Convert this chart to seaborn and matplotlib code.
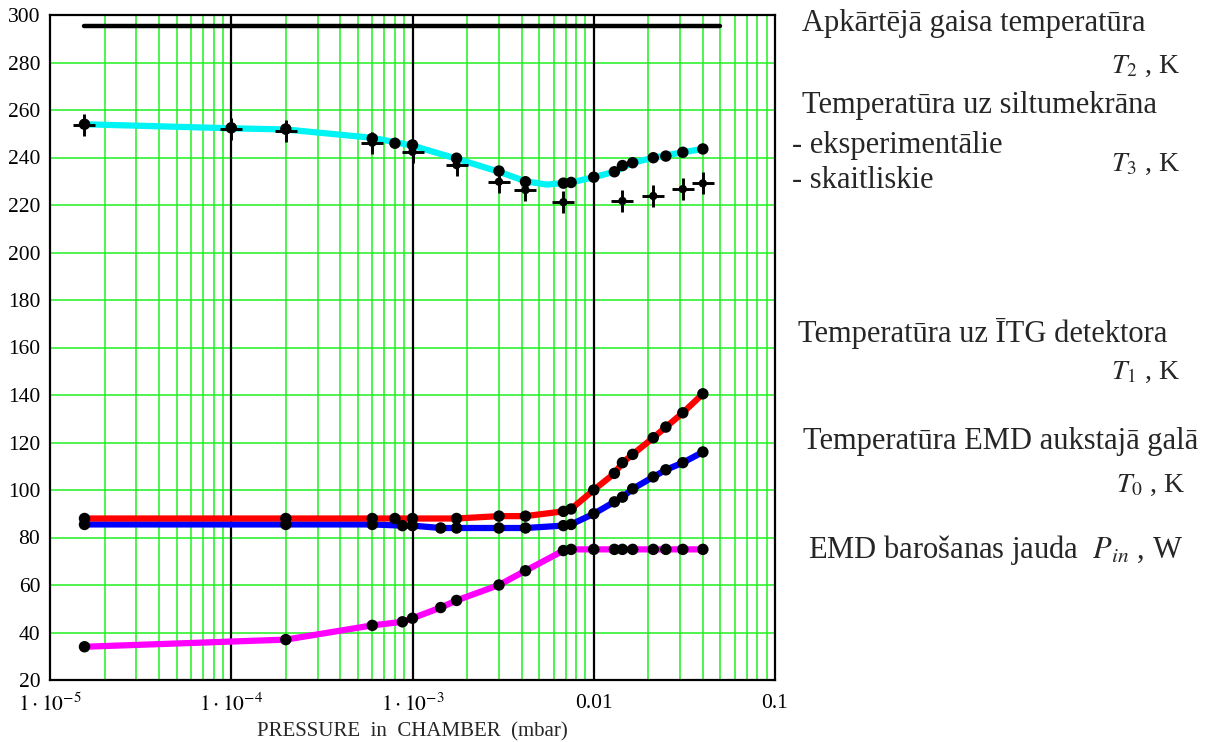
import numpy as np
import pandas as pd
import matplotlib
matplotlib.use("Agg")
import matplotlib.pyplot as plt
import seaborn as sns

# Pressure in chamber (mbar) and measured quantities
t2_p = [1.55e-5, 0.05]
t2_T = [295.5, 295.5]

t1_p = [1.55e-5, 2e-4, 6e-4, 8e-4, 1e-3, 1.75e-3, 3e-3, 4.2e-3, 6.8e-3, 7.5e-3,
        0.01, 0.013, 0.0144, 0.0164, 0.0213, 0.025, 0.031, 0.04]
t1_T = [88, 88, 88, 88, 88, 88, 89, 89, 91, 92,
        100, 107, 111.5, 115, 122, 126.5, 132.5, 140.5]

t0_p = [1.55e-5, 2e-4, 6e-4, 8.8e-4, 1e-3, 1.43e-3, 1.75e-3, 3e-3, 4.2e-3, 6.8e-3,
        7.5e-3, 0.01, 0.013, 0.0144, 0.0164, 0.0213, 0.025, 0.031, 0.04]
t0_T = [85.5, 85.5, 85.5, 85, 85, 84, 84, 84, 84, 85,
        85.5, 90, 95, 97, 100.5, 105.5, 108.5, 111.5, 116]

pin_p = t0_p
pin_W = [34, 37, 43, 44.5, 46, 50.5, 53.5, 60, 66, 74.5,
         75, 75, 75, 75, 75, 75, 75, 75, 75]

# Heat screen temperature: computed curve, computed points, experimental points
t3_curve_p = [1.55e-5, 1e-4, 2e-4, 6e-4, 1e-3, 1.75e-3, 3e-3, 4.2e-3, 5.5e-3,
              7.5e-3, 0.01, 0.013, 0.0164, 0.0213, 0.031, 0.04]
t3_curve_T = [254, 252.3, 251.8, 248.3, 245, 239.5, 234, 230, 228.6,
              229.5, 231.7, 234, 237.8, 239.9, 242.2, 243.6]

t3_calc_p = [1.55e-5, 1e-4, 2e-4, 6e-4, 8e-4, 1e-3, 1.75e-3, 3e-3, 4.2e-3, 6.8e-3,
             7.5e-3, 0.01, 0.013, 0.0144, 0.0164, 0.0213, 0.025, 0.031, 0.04]
t3_calc_T = [254, 252.5, 252, 248, 246, 245.3, 239.7, 234.3, 229.8, 229.2,
             229.5, 231.7, 234, 236.6, 237.8, 239.9, 240.6, 242.2, 243.6]

t3_exp_p = [1.55e-5, 1e-4, 2e-4, 6e-4, 1e-3, 1.75e-3, 3e-3, 4.2e-3, 6.8e-3,
            0.0144, 0.0213, 0.031, 0.04]
t3_exp_T = [253.7, 252, 251.3, 246.2, 242.4, 236.8, 229.8, 226.3, 221.2,
            221.7, 223.8, 226.7, 229.1]

x_ticks = [1e-5, 1e-4, 1e-3, 1e-2, 1e-1]
x_tick_labels = [r"$1\cdot10^{-5}$", r"$1\cdot10^{-4}$", r"$1\cdot10^{-3}$", "0.01", "0.1"]
y_ticks = list(range(20, 301, 20))

sns.set_theme(style="white")
plt.rcParams["font.family"] = ["Liberation Serif", "DejaVu Serif"]
plt.rcParams["mathtext.fontset"] = "stix"

W, H = 1210, 742
fig = plt.figure(figsize=(W / 100, H / 100), dpi=100)
ax = fig.add_axes([50 / W, 1 - 680 / H, 725 / W, 665 / H])
ax.set_xscale("log")
ax.set_xlim(1e-5, 0.1)
ax.set_ylim(20, 300)

# grid: green minor decades, black decade lines
green = "#1ef01e"
for dec in [1e-5, 1e-4, 1e-3, 1e-2]:
    for m in range(2, 10):
        ax.axvline(m * dec, color=green, lw=1.1, zorder=1)
for y in y_ticks[1:-1]:
    ax.axhline(y, color=green, lw=1.1, zorder=1)
for dec in [1e-4, 1e-3, 1e-2]:
    ax.axvline(dec, color="black", lw=1.6, zorder=2)

lw = 4.5
sns.lineplot(x=t2_p, y=t2_T, color="black", linewidth=3.2, ax=ax,
             estimator=None, sort=False, zorder=3, solid_capstyle="round")
sns.lineplot(x=t3_curve_p, y=t3_curve_T, color="#00f4f4", linewidth=lw, ax=ax,
             estimator=None, sort=False, zorder=3)
sns.lineplot(x=pin_p, y=pin_W, color="#ff00ff", linewidth=lw, ax=ax,
             estimator=None, sort=False, zorder=3)
sns.lineplot(x=t0_p, y=t0_T, color="#0000ff", linewidth=lw, ax=ax,
             estimator=None, sort=False, zorder=3)
sns.lineplot(x=t1_p, y=t1_T, color="#ff0000", linewidth=lw, ax=ax,
             estimator=None, sort=False, zorder=3)

dot_kw = dict(color="black", s=68, edgecolor="none", ax=ax, zorder=5)
for px, py in [(t3_calc_p, t3_calc_T), (pin_p, pin_W), (t0_p, t0_T), (t1_p, t1_T)]:
    sns.scatterplot(x=px, y=py, **dot_kw)
sns.scatterplot(x=t3_exp_p, y=t3_exp_T, marker="+", s=230, color="black",
                linewidth=2.1, ax=ax, zorder=6)
sns.scatterplot(x=t3_exp_p, y=t3_exp_T, s=36, color="black", edgecolor="none",
                ax=ax, zorder=6)

ax.set_xticks(x_ticks)
ax.set_xticklabels(x_tick_labels)
ax.xaxis.set_minor_locator(matplotlib.ticker.NullLocator())
ax.set_yticks(y_ticks)
ax.tick_params(axis="both", length=0, labelsize=15.5, colors="black")
ax.tick_params(axis="x", pad=10)
ax.tick_params(axis="y", pad=7)
for s in ax.spines.values():
    s.set_color("black")
    s.set_linewidth(1.6)
    s.set_zorder(7)
ax.set_xlabel("PRESSURE  in  CHAMBER  (mbar)", fontsize=15, labelpad=4)
ax.grid(False)

# annotations at the right
fs = 22
def label(x, y, s, **kw):
    fig.text(x / W, 1 - y / H, s, fontsize=kw.pop("size", fs), va="center", ha=kw.pop("ha", "left"), **kw)

label(802, 24, "Apkārtējā gaisa temperatūra")
label(1180, 66, r"$T_2$ , K", ha="right", size=20)
label(802, 106, "Temperatūra uz siltumekrāna")
label(792, 145, "- eksperimentālie")
label(792, 181, "- skaitliskie")
label(1180, 164, r"$T_3$ , K", ha="right", size=20)
label(798, 333, "Temperatūra uz ĪTG detektora")
label(1180, 372, r"$T_1$ , K", ha="right", size=20)
label(803, 441, "Temperatūra EMD aukstajā galā")
label(1185, 485, r"$T_0$ , K", ha="right", size=20)
label(808, 550, r"EMD barošanas jauda  $P_{in}$ , W")

fig.savefig("out.png", dpi=100, facecolor="white")
